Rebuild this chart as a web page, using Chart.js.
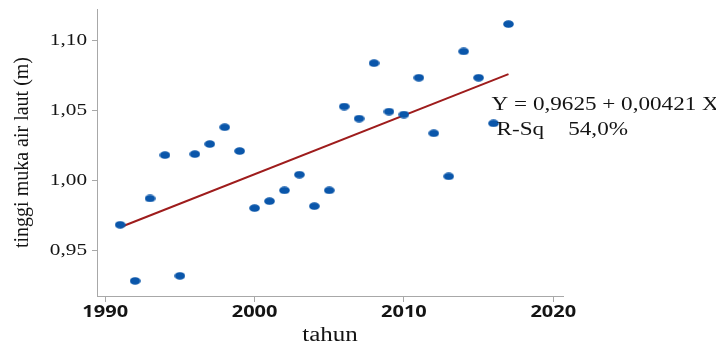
<!DOCTYPE html>
<html lang="id">
<head>
<meta charset="UTF-8">
<title>Tinggi muka air laut</title>
<script src="https://cdn.jsdelivr.net/npm/chart.js"></script>
<style>
    html, body { margin: 0; padding: 0; background: #fff; }
    #wrap { width: 716px; height: 347px; }
</style>
</head>
<body>
<div id="wrap"><canvas id="seaChart"></canvas></div>
<script>
    // data
    const years = [1991, 1992, 1993, 1994, 1995, 1996, 1997, 1998, 1999, 2000, 2001, 2002, 2003,
                   2004, 2005, 2006, 2007, 2008, 2009, 2010, 2011, 2012, 2013, 2014, 2015, 2016, 2017];
    const levels = [0.9685, 0.9284, 0.9873, 1.0183, 0.9320, 1.0190, 1.0262, 1.0382, 1.0212, 0.9804,
                    0.9854, 0.9931, 1.0043, 0.9818, 0.9931, 1.0530, 1.0444, 1.0840, 1.0494, 1.0473,
                    1.0736, 1.0339, 1.0031, 1.0924, 1.0736, 1.0410, 1.1119];
    // fitted line end points (Y = 0,9625 + 0,00421 X)
    const fitYears = [1991, 2017];
    const fitLevels = [0.9667, 1.0762];
    const xTicks = [1990, 2000, 2010, 2020];
    const yTicks = [0.95, 1.00, 1.05, 1.10];
    const eqLine = 'Y = 0,9625 + 0,00421 X';
    const rsqLabel = 'R-Sq';
    const rsqValue = '54,0%';

    const serif = '"Liberation Serif", "Times New Roman", serif';
    const grey = '#a8a8a8';

    // the source picture is stretched sideways, so horizontal text is widened a bit
    const STRETCH = 1.25;
    const origFillText = CanvasRenderingContext2D.prototype.fillText;
    CanvasRenderingContext2D.prototype.fillText = function (text, x, y, maxWidth) {
        const m = this.getTransform();
        if (m.b !== 0 || m.c !== 0) {
            return maxWidth === undefined ? origFillText.call(this, text, x, y)
                                          : origFillText.call(this, text, x, y, maxWidth);
        }
        this.save();
        this.translate(x, y);
        this.scale(STRETCH, 1);
        if (maxWidth === undefined) origFillText.call(this, text, 0, 0);
        else origFillText.call(this, text, 0, 0, maxWidth / STRETCH);
        this.restore();
    };

    // oval dot like the original markers
    const dot = document.createElement('canvas');
    dot.width = 11;
    dot.height = 8;
    const dctx = dot.getContext('2d');
    dctx.fillStyle = '#0a56aa';
    dctx.beginPath();
    dctx.ellipse(5.5, 4, 5.3, 3.8, 0, 0, Math.PI * 2);
    dctx.fill();

    // equation text drawn next to the fitted line
    const equationText = {
        id: 'equationText',
        afterDraw(chart) {
            const ctx = chart.ctx;
            const xs = chart.scales.x, ys = chart.scales.y;
            ctx.save();
            ctx.fillStyle = '#141414';
            ctx.font = '18.5px ' + serif;
            ctx.textAlign = 'left';
            ctx.textBaseline = 'middle';
            ctx.fillText(eqLine, xs.getPixelForValue(2015.87), ys.getPixelForValue(1.0537));
            ctx.fillText(rsqLabel, xs.getPixelForValue(2016.2), ys.getPixelForValue(1.0362));
            ctx.fillText(rsqValue, xs.getPixelForValue(2021.0), ys.getPixelForValue(1.0362));
            ctx.restore();
        }
    };

    const ctx = document.getElementById('seaChart').getContext('2d');
    new Chart(ctx, {
        type: 'scatter',
        data: {
            datasets: [
                {
                    label: 'tinggi muka air laut',
                    data: years.map((yr, i) => ({ x: yr, y: levels[i] })),
                    pointStyle: dot,
                    pointRadius: 5,
                    pointHoverRadius: 5,
                    showLine: false
                },
                {
                    label: 'regresi',
                    type: 'line',
                    data: fitYears.map((yr, i) => ({ x: yr, y: fitLevels[i] })),
                    borderColor: '#9e1c1c',
                    borderWidth: 2,
                    pointRadius: 0,
                    fill: false
                }
            ]
        },
        options: {
            responsive: true,
            maintainAspectRatio: false,
            animation: false,
            layout: { padding: { top: 9, right: 153, bottom: 0, left: 0 } },
            plugins: {
                legend: { display: false },
                tooltip: { enabled: false }
            },
            scales: {
                x: {
                    type: 'linear',
                    min: 1989.45,
                    max: 2020.65,
                    afterBuildTicks: s => { s.ticks = xTicks.map(v => ({ value: v })); },
                    afterFit: s => { s.height = 51; s.paddingLeft = 0; s.paddingRight = 0; },
                    grid: { drawOnChartArea: false, tickLength: 6, color: grey, tickColor: grey },
                    border: { color: grey, width: 1 },
                    ticks: {
                        autoSkip: false,
                        maxRotation: 0,
                        padding: 1,
                        color: '#141414',
                        font: { family: '"Open Sans", sans-serif', size: 16, weight: 'bold' },
                        callback: v => String(v)
                    },
                    title: {
                        display: true,
                        text: 'tahun',
                        color: '#141414',
                        font: { family: serif, size: 20, lineHeight: 1 },
                        padding: { top: 0, bottom: 1 }
                    }
                },
                y: {
                    type: 'linear',
                    min: 0.9176,
                    max: 1.1227,
                    afterBuildTicks: s => { s.ticks = yTicks.map(v => ({ value: v })); },
                    afterFit: s => { s.width = 97; s.paddingTop = 0; s.paddingBottom = 0; },
                    grid: { drawOnChartArea: false, tickLength: 5, color: grey, tickColor: grey },
                    border: { color: grey, width: 1 },
                    ticks: {
                        padding: 5,
                        color: '#141414',
                        font: { family: serif, size: 17 },
                        callback: v => v.toFixed(2).replace('.', ',')
                    },
                    title: {
                        display: true,
                        text: 'tinggi muka air laut (m)',
                        color: '#141414',
                        font: { family: serif, size: 20, lineHeight: 1.2 },
                        padding: { top: 11, bottom: 0 }
                    }
                }
            }
        },
        plugins: [equationText]
    });
</script>
</body>
</html>
